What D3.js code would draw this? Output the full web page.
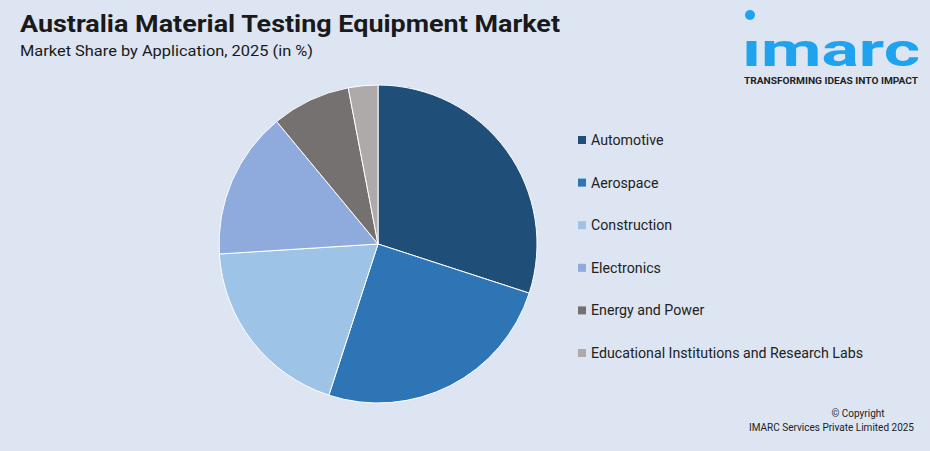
<!DOCTYPE html>
<html><head><meta charset="utf-8">
<script src="https://cdn.jsdelivr.net/npm/d3@7"></script>
<style>body{margin:0;background:#dde5f2;}svg{display:block;font-family:Roboto,"Noto Sans",sans-serif;}</style>
</head><body><svg id="c" width="930" height="451"></svg>
<script>
const categories = ["Automotive", "Aerospace", "Construction", "Electronics", "Energy and Power", "Educational Institutions and Research Labs"];
const shares = [30, 25, 19, 15, 8, 3];
const colors = ["#1f4e79", "#2e75b6", "#9dc3e6", "#8faadc", "#767171", "#aeaaaa"];

const svg = d3.select("#c");
svg.append("rect").attr("width", 930).attr("height", 451).attr("fill", "#dde5f2");

svg.append("text").attr("x", 20).attr("y", 32).attr("font-size", 23).attr("font-weight", 700)
  .attr("fill", "#1a1a1a").attr("textLength", 540).attr("lengthAdjust", "spacingAndGlyphs")
  .text("Australia Material Testing Equipment Market");
svg.append("text").attr("x", 20).attr("y", 56).attr("font-size", 15).attr("fill", "#1a1a1a")
  .attr("textLength", 293).attr("lengthAdjust", "spacingAndGlyphs")
  .text("Market Share by Application, 2025 (in %)");

// logo
const logo = svg.append("g");
logo.append("circle").attr("cx", 750).attr("cy", 15).attr("r", 5).attr("fill", "#1fa3ee");
logo.append("text").attr("x", 0).attr("y", 0).attr("font-size", 40).attr("font-weight", 700)
  .attr("fill", "#1fa3ee").attr("textLength", 178).attr("lengthAdjust", "spacingAndGlyphs")
  .attr("transform", "translate(742,66) scale(1,1.15)").text("ımarc");
logo.append("text").attr("x", 744).attr("y", 84).attr("font-size", 9).attr("font-weight", 700)
  .attr("fill", "#222").attr("textLength", 174).attr("lengthAdjust", "spacingAndGlyphs")
  .text("TRANSFORMING IDEAS INTO IMPACT");

const pie = d3.pie().sort(null).value(d => d)(shares);
const arc = d3.arc().innerRadius(0).outerRadius(159);
svg.append("g").attr("transform", "translate(378,244)")
  .selectAll("path").data(pie).join("path")
  .attr("d", arc).attr("fill", (d, i) => colors[i]).attr("stroke", "#fff").attr("stroke-width", 1);

const y = d3.scalePoint().domain(categories).range([140, 353]);
const lg = svg.append("g").selectAll("g").data(categories).join("g")
  .attr("transform", d => `translate(578,${y(d)})`);
lg.append("rect").attr("x", 0).attr("y", -4).attr("width", 8).attr("height", 8).attr("fill", (d, i) => colors[i]);
lg.append("text").attr("x", 13).attr("dy", "0.35em").attr("font-size", 14.2).attr("fill", "#222").text(d => d);

svg.append("text").attr("x", 858).attr("y", 417).attr("text-anchor", "middle").attr("font-size", 10)
  .attr("fill", "#222").text("© Copyright");
svg.append("text").attr("x", 914).attr("y", 431).attr("text-anchor", "end").attr("font-size", 10)
  .attr("fill", "#222").text("IMARC Services Private Limited 2025");
</script></body></html>
